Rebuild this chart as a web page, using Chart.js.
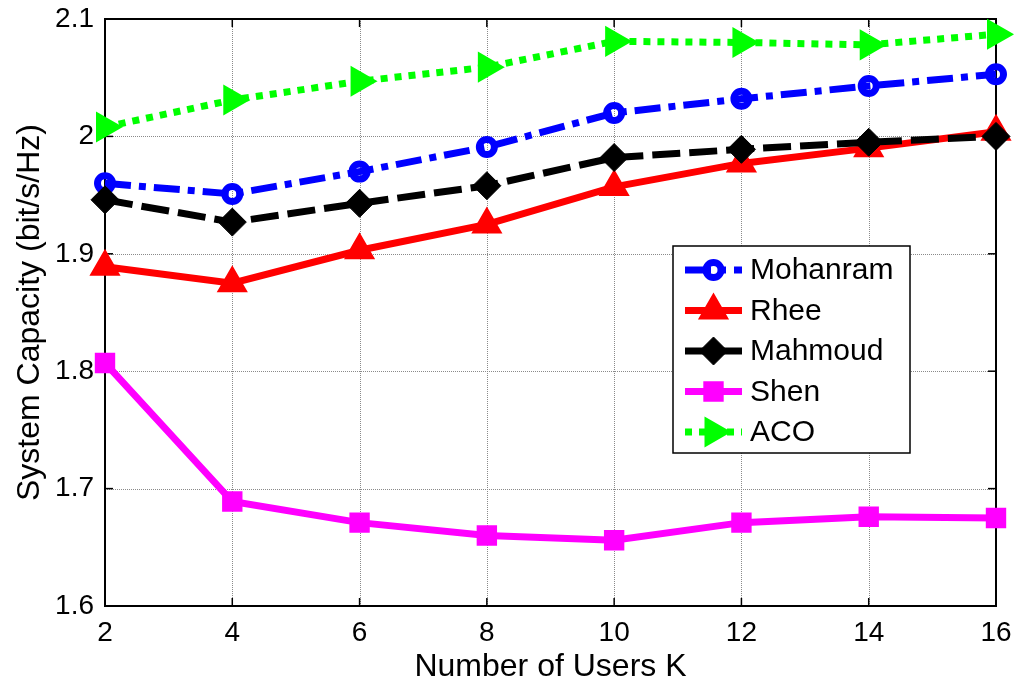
<!DOCTYPE html>
<html><head><meta charset="utf-8">
<script src="https://cdn.jsdelivr.net/npm/chart.js@4/dist/chart.umd.min.js"></script>
<style>html,body{margin:0;padding:0;background:#fff;}canvas{display:block}</style>
</head><body>
<canvas id="c" width="1020" height="686"></canvas>
<script>
// ---- data ----
const users = [2, 4, 6, 8, 10, 12, 14, 16];
const mohanram = [1.960, 1.951, 1.970, 1.991, 2.020, 2.032, 2.043, 2.053];
const rhee     = [1.889, 1.875, 1.903, 1.925, 1.957, 1.977, 1.990, 2.004];
const mahmoud  = [1.946, 1.927, 1.943, 1.958, 1.982, 1.989, 1.995, 2.000];
const shen     = [1.807, 1.689, 1.671, 1.660, 1.656, 1.671, 1.676, 1.675];
const aco      = [2.008, 2.031, 2.047, 2.059, 2.081, 2.080, 2.078, 2.087];
const seriesNames = ['Mohanram', 'Rhee', 'Mahmoud', 'Shen', 'ACO'];
const xTicks = [2, 4, 6, 8, 10, 12, 14, 16];
const yTicks = [1.6, 1.7, 1.8, 1.9, 2.0, 2.1];
const yTickLabels = ['1.6', '1.7', '1.8', '1.9', '2', '2.1'];
const xTitle = 'Number of Users K';
const yTitle = 'System Capacity (bit/s/Hz)';

const FONT = "'Liberation Sans', Arial, Helvetica, sans-serif";
const toXY = arr => arr.map((v, i) => ({x: users[i], y: v}));

const styles = [
  {color: '#0000ff', dash: [26, 8, 7, 8], pointStyle: 'circle', rotation: 0, radius: 7.5, pbw: 7, fill: 'rgba(0,0,0,0)'},
  {color: '#ff0000', dash: [], pointStyle: 'triangle', rotation: 0, radius: 16, pbw: 2, fill: '#ff0000'},
  {color: '#000000', dash: [28, 9], pointStyle: 'rectRot', rotation: 0, radius: 14, pbw: 1, fill: '#000000'},
  {color: '#ff00ff', dash: [], pointStyle: 'rect', rotation: 0, radius: 13, pbw: 2, fill: '#ff00ff'},
  {color: '#00ff00', dash: [7, 7], pointStyle: 'triangle', rotation: 90, radius: 16, pbw: 2, fill: '#00ff00'}
];
const seriesData = [mohanram, rhee, mahmoud, shen, aco];

const datasets = seriesData.map((d, i) => {
  const s = styles[i];
  return {
    label: seriesNames[i],
    data: toXY(d),
    borderColor: s.color,
    borderWidth: 7,
    borderDash: s.dash,
    borderCapStyle: 'butt',
    tension: 0,
    fill: false,
    pointStyle: s.pointStyle,
    pointRotation: s.rotation,
    pointRadius: s.radius,
    pointBorderWidth: s.pbw,
    pointBorderColor: s.color,
    pointBackgroundColor: s.fill,
    clip: false,
    order: 5 - i
  };
});

const axesPlugin = {
  id: 'axesBox',
  beforeDatasetsDraw(chart) {
    const {ctx, chartArea: a, scales: {x, y}} = chart;
    ctx.save();
    ctx.strokeStyle = '#8a8a8a';
    ctx.lineWidth = 1;
    ctx.setLineDash([1, 1]);
    xTicks.forEach(v => {
      const px = Math.round(x.getPixelForValue(v)) + 0.5;
      ctx.beginPath(); ctx.moveTo(px, a.top); ctx.lineTo(px, a.bottom); ctx.stroke();
    });
    yTicks.forEach(v => {
      const py = Math.round(y.getPixelForValue(v)) + 0.5;
      ctx.beginPath(); ctx.moveTo(a.left, py); ctx.lineTo(a.right, py); ctx.stroke();
    });
    ctx.setLineDash([]);
    ctx.strokeStyle = '#000';
    ctx.lineWidth = 1.5;
    const tl = 8;
    xTicks.forEach(v => {
      const px = x.getPixelForValue(v);
      ctx.beginPath(); ctx.moveTo(px, a.bottom); ctx.lineTo(px, a.bottom - tl); ctx.stroke();
      ctx.beginPath(); ctx.moveTo(px, a.top); ctx.lineTo(px, a.top + tl); ctx.stroke();
    });
    yTicks.forEach(v => {
      const py = y.getPixelForValue(v);
      ctx.beginPath(); ctx.moveTo(a.left, py); ctx.lineTo(a.left + tl, py); ctx.stroke();
      ctx.beginPath(); ctx.moveTo(a.right, py); ctx.lineTo(a.right - tl, py); ctx.stroke();
    });
    ctx.lineWidth = 2;
    ctx.strokeRect(a.left, a.top, a.right - a.left, a.bottom - a.top);
    ctx.restore();
  }
};

const legendPlugin = {
  id: 'matlabLegend',
  afterDraw(chart) {
    const ctx = chart.ctx;
    const box = {x0: 673, y0: 246, x1: 910, y1: 453};
    const rowY0 = 270, rowH = 40.5, lx0 = 685, lx1 = 742, tx = 750;
    ctx.save();
    ctx.fillStyle = '#fff';
    ctx.fillRect(box.x0, box.y0, box.x1 - box.x0, box.y1 - box.y0);
    ctx.strokeStyle = '#000';
    ctx.lineWidth = 1.5;
    ctx.strokeRect(box.x0, box.y0, box.x1 - box.x0, box.y1 - box.y0);
    chart.data.datasets.forEach((ds, i) => {
      const yy = rowY0 + i * rowH;
      ctx.save();
      ctx.strokeStyle = ds.borderColor;
      ctx.lineWidth = ds.borderWidth;
      ctx.setLineDash(ds.borderDash || []);
      ctx.beginPath(); ctx.moveTo(lx0, yy); ctx.lineTo(lx1, yy); ctx.stroke();
      ctx.setLineDash([]);
      ctx.fillStyle = ds.pointBackgroundColor;
      ctx.strokeStyle = ds.pointBorderColor;
      ctx.lineWidth = ds.pointBorderWidth;
      Chart.helpers.drawPoint(ctx, {
        pointStyle: ds.pointStyle, rotation: ds.pointRotation,
        radius: ds.pointRadius, borderWidth: ds.pointBorderWidth
      }, (lx0 + lx1) / 2, yy);
      ctx.restore();
      ctx.fillStyle = '#000';
      ctx.font = '30px ' + FONT;
      ctx.textBaseline = 'middle';
      ctx.textAlign = 'left';
      ctx.fillText(ds.label, tx, yy + 1);
    });
    ctx.restore();
  }
};

new Chart(document.getElementById('c'), {
  type: 'line',
  data: {datasets},
  options: {
    responsive: false,
    animation: false,
    events: [],
    layout: {padding: {top: 19, right: 24, left: 0, bottom: 0}},
    plugins: {legend: {display: false}, tooltip: {enabled: false}},
    scales: {
      x: {
        type: 'linear', min: 2, max: 16,
        afterBuildTicks: s => { s.ticks = xTicks.map(v => ({value: v})); },
        afterFit: s => { s.height = 80; s.paddingLeft = 0; s.paddingRight = 0; },
        grid: {display: false, drawTicks: false},
        border: {display: false},
        ticks: {color: '#000', font: {family: FONT, size: 28}, padding: 10, maxRotation: 0, autoSkip: false,
                callback: v => String(v)},
        title: {display: true, text: xTitle, color: '#000', font: {family: FONT, size: 32}, padding: {top: 0, bottom: 0}}
      },
      y: {
        type: 'linear', min: 1.6, max: 2.1,
        afterBuildTicks: s => { s.ticks = yTicks.map(v => ({value: v})); },
        afterFit: s => { s.width = 105; s.paddingTop = 0; s.paddingBottom = 0; },
        grid: {display: false, drawTicks: false},
        border: {display: false},
        ticks: {color: '#000', font: {family: FONT, size: 28}, padding: 11, autoSkip: false,
                callback: v => { const k = yTicks.findIndex(t => Math.abs(t - v) < 1e-9); return k >= 0 ? yTickLabels[k] : ''; }},
        title: {display: true, text: yTitle, color: '#000', font: {family: FONT, size: 32}, padding: {top: 11, bottom: 0}}
      }
    }
  },
  plugins: [axesPlugin, legendPlugin]
});
</script>
</body></html>
